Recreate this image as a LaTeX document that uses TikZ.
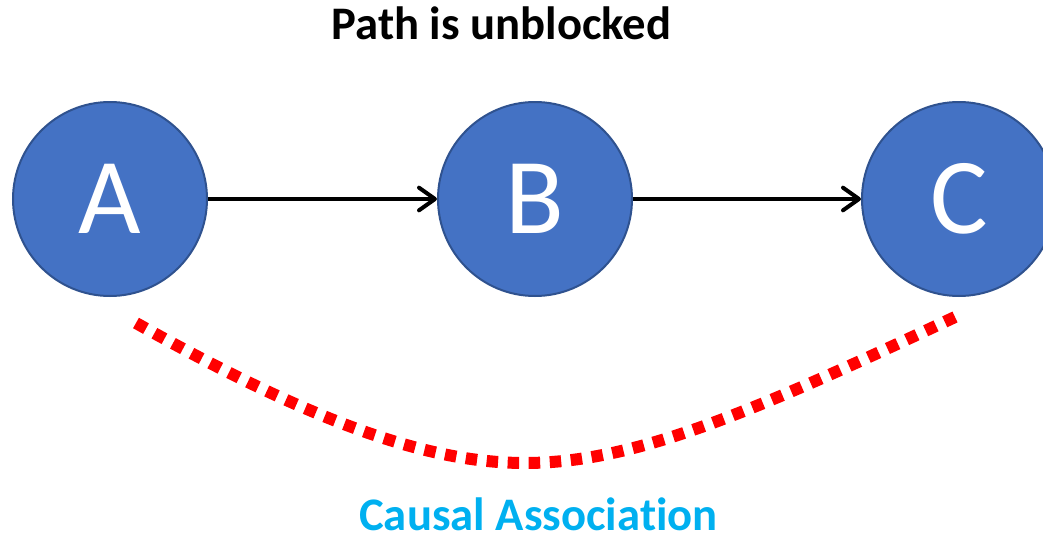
\documentclass[tikz,border=0pt]{standalone}
\usepackage{fontspec}
\setmainfont[Ligatures={NoCommon,NoRare,NoContextual}]{Carlito}
\usetikzlibrary{arrows.meta}
\definecolor{nodefill}{RGB}{68,114,196}
\definecolor{nodeedge}{RGB}{47,82,143}
\definecolor{assoc}{RGB}{0,176,240}
\definecolor{dotred}{RGB}{255,0,0}
\tikzset{
  var/.style={circle, fill=nodefill, draw=nodeedge, line width=1.5pt,
    minimum size=145.5pt, inner sep=0pt, text=white,
    font=\fontsize{81}{97}\selectfont},
  edge/.style={line width=3pt, -{Straight Barb[length=12pt,width=17pt,line cap=round,line join=round]}},
  assocline/.style={dotred, line width=9pt, dash pattern=on 8.6pt off 7.2pt},
  heading/.style={font=\bfseries\fontsize{35}{42}\selectfont, anchor=base}
}
\begin{document}
\begin{tikzpicture}[x=0.75pt, y=-0.75pt]
  \useasboundingbox (0,0) rectangle (1043,543);

  % title
  \node[heading] (title) at (501.5,39) {Path is unblocked};

  % the three variables of the chain
  \node[var] (A) at (110,199) {A};
  \node[var] (B) at (535,199) {B};
  \node[var] (C) at (959,199) {C};

  % directed edges along the chain
  \draw[edge] (A) -- (B);
  \draw[edge] (B) -- (C);

  % association between the two ends
  \coordinate (s) at (136,323);
  \coordinate (m) at (525,463);
  \coordinate (e) at (955,317);
  \draw[assocline] (s) .. controls (316,424) and (430,463) .. (m)
                       .. controls (635,463) and (755,411) .. (e);

  \node[heading, text=assoc] (label) at (538.5,530) {Causal Association};
\end{tikzpicture}
\end{document}
